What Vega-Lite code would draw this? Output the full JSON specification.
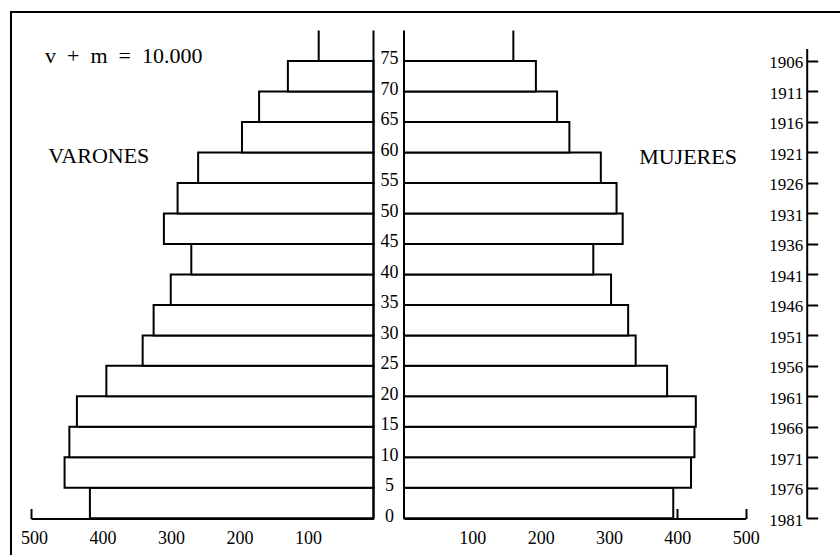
{
  "$schema": "https://vega.github.io/schema/vega-lite/v6.json",
  "width": 830,
  "height": 545,
  "padding": {"left": 11, "top": 12, "right": 0, "bottom": 0},
  "background": "white",
  "data": {
    "values": [
      {"edad": 0, "edad_fin": 5, "nacidos": 1981, "hombres": 414, "mujeres": 394},
      {"edad": 5, "edad_fin": 10, "nacidos": 1976, "hombres": 451, "mujeres": 420},
      {"edad": 10, "edad_fin": 15, "nacidos": 1971, "hombres": 444, "mujeres": 425},
      {"edad": 15, "edad_fin": 20, "nacidos": 1966, "hombres": 433, "mujeres": 427},
      {"edad": 20, "edad_fin": 25, "nacidos": 1961, "hombres": 390, "mujeres": 385},
      {"edad": 25, "edad_fin": 30, "nacidos": 1956, "hombres": 337, "mujeres": 339},
      {"edad": 30, "edad_fin": 35, "nacidos": 1951, "hombres": 321, "mujeres": 328},
      {"edad": 35, "edad_fin": 40, "nacidos": 1946, "hombres": 296, "mujeres": 303},
      {"edad": 40, "edad_fin": 45, "nacidos": 1941, "hombres": 266, "mujeres": 277},
      {"edad": 45, "edad_fin": 50, "nacidos": 1936, "hombres": 306, "mujeres": 320},
      {"edad": 50, "edad_fin": 55, "nacidos": 1931, "hombres": 286, "mujeres": 311},
      {"edad": 55, "edad_fin": 60, "nacidos": 1926, "hombres": 256, "mujeres": 288},
      {"edad": 60, "edad_fin": 65, "nacidos": 1921, "hombres": 192, "mujeres": 242},
      {"edad": 65, "edad_fin": 70, "nacidos": 1916, "hombres": 167, "mujeres": 224},
      {"edad": 70, "edad_fin": 75, "nacidos": 1911, "hombres": 125, "mujeres": 193},
      {"edad": 75, "edad_fin": 80, "nacidos": 1906, "hombres": 80, "mujeres": 160}
    ]
  },
  "config": {
    "view": {"stroke": "black", "strokeWidth": 2},
    "axis": {
      "grid": false,
      "domainColor": "black",
      "domainWidth": 2,
      "tickColor": "black",
      "tickWidth": 2,
      "labelColor": "black",
      "labelFont": "Liberation Serif",
      "labelOverlap": false,
      "labelFlush": false,
      "labelBound": false
    },
    "text": {"font": "Liberation Serif", "color": "black"}
  },
  "resolve": {"scale": {"x": "independent", "y": "independent"}},
  "layer": [
    {
      "layer": [
        {
          "transform": [{"filter": "datum.edad < 75"}],
          "mark": {"type": "rect", "fill": "white", "stroke": "black", "strokeWidth": 2},
          "encoding": {
            "x": {
              "field": "hombres", "type": "quantitative",
              "scale": {"domain": [0, 500], "range": [362.5, 20], "nice": false, "zero": false},
              "axis": {"orient": "bottom", "offset": -38.5, "values": [100, 200, 300, 400, 500], "tickSize": -10, "labelPadding": 21, "labelOffset": 3, "labelFontSize": 18, "labelBaseline": "top", "labelOverlap": false, "title": null}
            },
            "x2": {"datum": 0},
            "y": {
              "field": "edad", "type": "quantitative",
              "scale": {"domain": [0, 80], "range": [506.3, 18.5], "nice": false, "zero": false},
              "axis": null
            },
            "y2": {"field": "edad_fin"}
          }
        },
        {
          "transform": [{"filter": "datum.edad == 75"}],
          "mark": {"type": "rule", "stroke": "black", "strokeWidth": 2},
          "encoding": {
            "x": {"field": "hombres", "type": "quantitative"},
            "y": {"field": "edad", "type": "quantitative", "axis": null},
            "y2": {"field": "edad_fin"}
          }
        },
        {
          "data": {"values": [{"eje": "base"}]},
          "mark": {"type": "rule", "stroke": "black", "strokeWidth": 2},
          "encoding": {
            "x": {"datum": 0, "type": "quantitative"},
            "y": {"datum": 0, "type": "quantitative", "axis": null},
            "y2": {"datum": 80}
          }
        },
        {
          "data": {"values": [{"texto": "VARONES"}]},
          "mark": {"type": "text", "align": "center", "baseline": "alphabetic", "fontSize": 22},
          "encoding": {
            "text": {"field": "texto"},
            "x": {"datum": 401, "type": "quantitative"},
            "y": {"datum": 58.3, "type": "quantitative", "axis": null}
          }
        },
        {
          "data": {"values": [{"texto": "v\u00a0 +\u00a0 m\u00a0 =\u00a0 10.000"}]},
          "mark": {"type": "text", "align": "left", "baseline": "alphabetic", "fontSize": 22},
          "encoding": {
            "text": {"field": "texto"},
            "x": {"datum": 479.6, "type": "quantitative"},
            "y": {"datum": 74.7, "type": "quantitative", "axis": null}
          }
        }
      ]
    },
    {
      "layer": [
        {
          "transform": [{"filter": "datum.edad < 75"}],
          "mark": {"type": "rect", "fill": "white", "stroke": "black", "strokeWidth": 2},
          "encoding": {
            "x": {
              "field": "mujeres", "type": "quantitative",
              "scale": {"domain": [0, 500], "range": [393, 734.7], "nice": false, "zero": false},
              "axis": {"orient": "bottom", "offset": -38.5, "values": [100, 200, 300, 400, 500], "tickSize": -10, "labelPadding": 21, "labelFontSize": 18, "labelBaseline": "top", "labelOverlap": false, "title": null}
            },
            "x2": {"datum": 0},
            "y": {
              "field": "edad", "type": "quantitative",
              "scale": {"domain": [0, 80], "range": [506.3, 18.5], "nice": false, "zero": false},
              "axis": null
            },
            "y2": {"field": "edad_fin"}
          }
        },
        {
          "transform": [{"filter": "datum.edad == 75"}],
          "mark": {"type": "rule", "stroke": "black", "strokeWidth": 2},
          "encoding": {
            "x": {"field": "mujeres", "type": "quantitative"},
            "y": {"field": "edad", "type": "quantitative", "axis": null},
            "y2": {"field": "edad_fin"}
          }
        },
        {
          "data": {"values": [{"eje": "base"}]},
          "mark": {"type": "rule", "stroke": "black", "strokeWidth": 2},
          "encoding": {
            "x": {"datum": 0, "type": "quantitative"},
            "y": {"datum": 0, "type": "quantitative", "axis": null},
            "y2": {"datum": 80}
          }
        },
        {
          "data": {"values": [{"texto": "MUJERES"}]},
          "mark": {"type": "text", "align": "center", "baseline": "alphabetic", "fontSize": 22},
          "encoding": {
            "text": {"field": "texto"},
            "x": {"datum": 415.6, "type": "quantitative"},
            "y": {"datum": 58.1, "type": "quantitative", "axis": null}
          }
        }
      ]
    },
    {
      "mark": {"type": "point", "opacity": 0},
      "encoding": {
        "y": {
          "field": "edad", "type": "quantitative",
          "scale": {"domain": [0, 80], "range": [506.3, 18.5], "nice": false, "zero": false},
          "axis": {"orient": "left", "offset": -378, "values": [0, 5, 10, 15, 20, 25, 30, 35, 40, 45, 50, 55, 60, 65, 70, 75], "format": "d", "ticks": false, "tickSize": 0, "domain": false, "labelPadding": 0, "labelAlign": "center", "labelBaseline": "alphabetic", "labelOffset": 3, "labelFontSize": 18, "labelOverlap": false, "labelSeparation": 0, "title": null}
        }
      }
    },
    {
      "mark": {"type": "point", "opacity": 0},
      "encoding": {
        "y": {
          "field": "nacidos", "type": "quantitative",
          "scale": {"domain": [1904, 1981], "range": [36.5, 506.3], "nice": false, "zero": false},
          "axis": {"orient": "right", "offset": -34.3, "values": [1906, 1911, 1916, 1921, 1926, 1931, 1936, 1941, 1946, 1951, 1956, 1961, 1966, 1971, 1976, 1981], "format": "d", "tickSize": 11, "labelPadding": -15, "labelAlign": "right", "labelBaseline": "middle", "labelOffset": 2, "labelFontSize": 17, "labelOverlap": false, "title": null}
        }
      }
    }
  ]
}
